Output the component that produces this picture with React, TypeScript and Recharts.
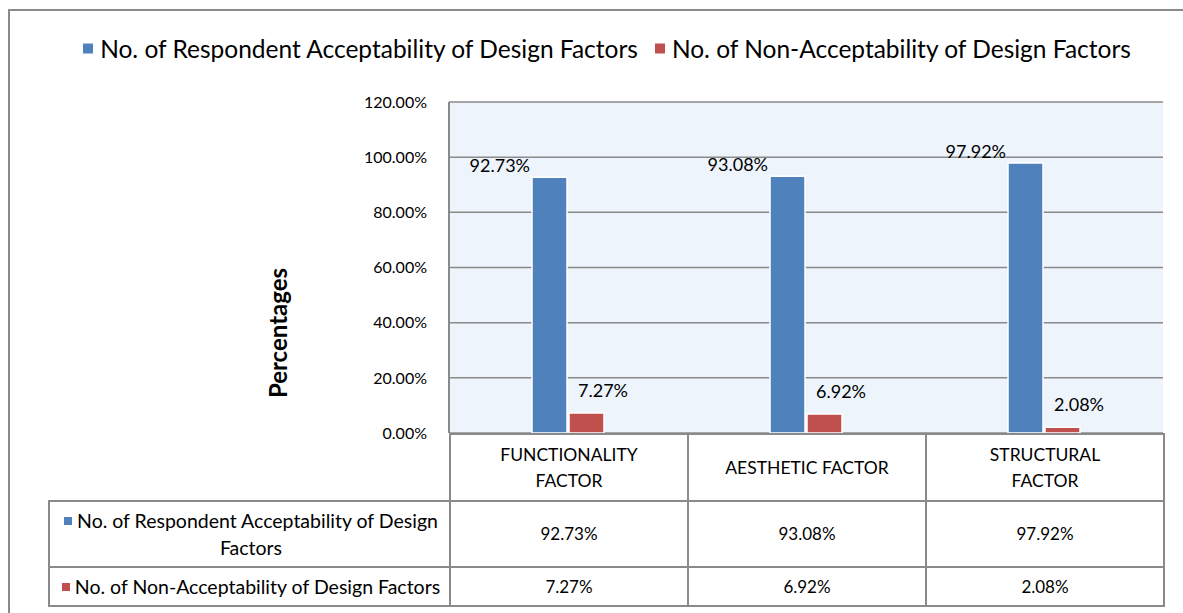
import React from 'react'
import { BarChart, Bar, XAxis, YAxis, CartesianGrid } from 'recharts'

const categories = ['FUNCTIONALITY FACTOR', 'AESTHETIC FACTOR', 'STRUCTURAL FACTOR']
const acceptable = [92.73, 93.08, 97.92]
const notAcceptable = [7.27, 6.92, 2.08]
const yTicks = [0, 20, 40, 60, 80, 100, 120]

const seriesNames = [
  'No. of Respondent Acceptability of Design Factors',
  'No. of Non-Acceptability of Design Factors',
]
const seriesColors = ['#4F81BD', '#C0504D']

const data = categories.map((c, i) => ({
  category: c,
  acc: acceptable[i],
  non: notAcceptable[i],
}))

const FONT = 'Lato, "Open Sans", sans-serif'
const GRID = '#8a8a8a'
const fmt = (v: number) => v.toFixed(2) + '%'

// plot box
const PL = 449
const PR = 1163
const PT = 102
const PB = 433
const colW = (PR - PL) / categories.length
const rowTops = [433, 500, 566, 605]
const labelLeft = 48

function BlueLabel(props: any) {
  const { x, y, value } = props
  return (
    <text x={x - 2} y={y - 5} textAnchor="end" fontSize={18} fill="#000" fontFamily={FONT}>
      {fmt(value)}
    </text>
  )
}

function RedLabel(props: any) {
  const { x, y, value } = props
  return (
    <text x={x + 9} y={y - 16} textAnchor="start" fontSize={18} fill="#000" fontFamily={FONT}>
      {fmt(value)}
    </text>
  )
}

const cell = (left: number, top: number, w: number, h: number, fs: number): React.CSSProperties => ({
  position: 'absolute',
  left,
  top,
  width: w,
  height: h,
  boxSizing: 'border-box',
  border: `2px solid ${GRID}`,
  display: 'flex',
  alignItems: 'center',
  justifyContent: 'center',
  textAlign: 'center',
  fontFamily: FONT,
  fontSize: fs,
  color: '#000',
  lineHeight: '26px',
})

export default function App() {
  const rows = [acceptable, notAcceptable]
  return (
    <div style={{ position: 'absolute', left: 0, top: 0, width: 1183, height: 613, background: '#fff', overflow: 'hidden' }}>
      <div style={{ position: 'absolute', left: 8, top: 9, width: 1175, height: 604, borderTop: `2px solid ${GRID}`, borderLeft: `2px solid ${GRID}`, boxSizing: 'border-box' }} />

      <div
        style={{
          position: 'absolute',
          left: 27,
          top: 48,
          width: 1160,
          transform: 'translateY(-50%)',
          display: 'flex',
          justifyContent: 'center',
          alignItems: 'center',
          fontFamily: FONT,
          fontSize: 24.5,
          color: '#000',
          whiteSpace: 'nowrap',
        }}
      >
        {seriesNames.map((n, i) => (
          <div key={n} style={{ display: 'flex', alignItems: 'center', marginRight: i === 0 ? 17 : 0 }}>
            <span style={{ width: 10, height: 10, background: seriesColors[i], marginRight: 7, display: 'inline-block' }} />
            <span>{n}</span>
          </div>
        ))}
      </div>

      <div style={{ position: 'absolute', left: 0, top: 0 }}>
        <BarChart
          width={1183}
          height={613}
          data={data}
          margin={{ top: PT, right: 1183 - PR, bottom: 613 - PB, left: PL - 100 }}
          barCategoryGap="35%"
          barGap={2}
        >
          <CartesianGrid vertical={false} stroke={GRID} strokeWidth={1.5} fill="#EDF4FB" fillOpacity={1} />
          <XAxis dataKey="category" hide />
          <YAxis
            width={100}
            domain={[0, 120]}
            ticks={yTicks}
            tickFormatter={fmt}
            axisLine={{ stroke: GRID, strokeWidth: 2 }}
            tickLine={false}
            tickSize={0}
            tickMargin={22}
            tick={{ fill: '#000', fontSize: 16, fontFamily: FONT }}
          />
          <Bar dataKey="acc" name={seriesNames[0]} fill={seriesColors[0]} stroke="#fff" strokeWidth={1.5} barSize={35} isAnimationActive={false} label={<BlueLabel />} />
          <Bar dataKey="non" name={seriesNames[1]} fill={seriesColors[1]} stroke="#fff" strokeWidth={1.5} barSize={35} isAnimationActive={false} label={<RedLabel />} />
        </BarChart>
      </div>

      <div
        style={{
          position: 'absolute',
          left: 277,
          top: 333,
          transform: 'translate(-50%, -50%) rotate(-90deg)',
          fontFamily: FONT,
          fontWeight: 'bold',
          fontSize: 24,
          color: '#000',
          whiteSpace: 'nowrap',
        }}
      >
        Percentages
      </div>

      {categories.map((c, i) => (
        <div key={c} style={{ ...cell(PL + i * colW, rowTops[0], colW + 2, rowTops[1] - rowTops[0] + 2, 17.5), padding: '0 34px' }}>
          {c}
        </div>
      ))}

      {rows.map((vals, r) => (
        <React.Fragment key={r}>
          <div style={{ ...cell(labelLeft, rowTops[r + 1], PL - labelLeft + 2, rowTops[r + 2] - rowTops[r + 1] + 2, 19.5), padding: '0 3px 0 6px', lineHeight: '27px' }}>
            <div style={{ textAlign: 'center' }}>
              <span style={{ display: 'inline-block', width: 8, height: 8, background: seriesColors[r], marginRight: 5, verticalAlign: 'middle', position: 'relative', top: -2 }} />
              {seriesNames[r]}
            </div>
          </div>
          {vals.map((v, i) => (
            <div key={i} style={cell(PL + i * colW, rowTops[r + 1], colW + 2, rowTops[r + 2] - rowTops[r + 1] + 2, 17)}>
              {fmt(v)}
            </div>
          ))}
        </React.Fragment>
      ))}
    </div>
  )
}
